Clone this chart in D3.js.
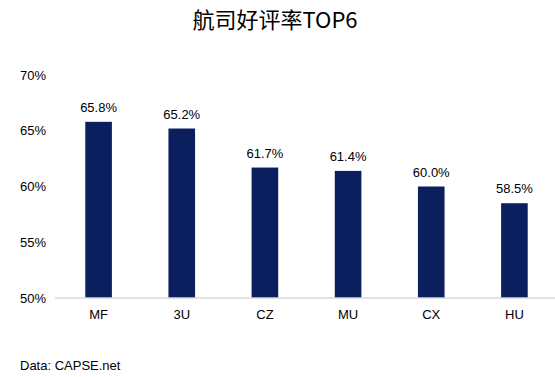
<!DOCTYPE html>
<html lang="zh">
<head>
    <meta charset="UTF-8">
    <title>航司好评率TOP6</title>
    <script src="https://d3js.org/d3.v7.min.js"></script>
    <style>
        body { margin: 0; background: #fff; }
        svg { font-family: "Liberation Sans", Arial, sans-serif; }
        .axis-x path { stroke: #d9d9d9; stroke-width: 1.5; }
        .axis-x line { display: none; }
        .axis-x text, .axis-y text { font-size: 13px; fill: #000; }
        .axis-y path, .axis-y line { display: none; }
    </style>
</head>
<body>
    <svg width="555" height="377"></svg>

    <script>
        // Data
        const airlines = ["MF", "3U", "CZ", "MU", "CX", "HU"];
        const ratings = [65.8, 65.2, 61.7, 61.4, 60.0, 58.5];
        const yTicks = [50, 55, 60, 65, 70];

        const svg = d3.select("svg");

        // Scales
        const x = d3.scaleBand()
            .domain(airlines)
            .range([57, 556])
            .paddingInner(0.68)
            .paddingOuter(0.34);
        const y = d3.scaleLinear().domain([50, 70]).range([298, 75]);

        // Title
        svg.append("text")
            .attr("x", 275)
            .attr("y", 28)
            .attr("text-anchor", "middle")
            .style("font-family", "'Noto Sans CJK SC', 'Liberation Sans', sans-serif")
            .style("font-size", "22px")
            .text("航司好评率TOP6");

        // Bars
        svg.selectAll(".bar")
            .data(ratings)
            .enter().append("rect")
            .attr("class", "bar")
            .attr("x", (d, i) => x(airlines[i]))
            .attr("width", x.bandwidth())
            .attr("y", d => y(d))
            .attr("height", d => y(50) - y(d))
            .attr("fill", "#0b1f5e");

        // Value labels
        svg.selectAll(".label")
            .data(ratings)
            .enter().append("text")
            .attr("class", "label")
            .attr("x", (d, i) => x(airlines[i]) + x.bandwidth() / 2)
            .attr("y", d => y(d) - 10)
            .attr("text-anchor", "middle")
            .style("font-size", "13px")
            .text(d => d.toFixed(1) + "%");

        // X axis
        svg.append("g")
            .attr("class", "axis-x")
            .attr("transform", `translate(0,${y(50)})`)
            .call(d3.axisBottom(x).tickSize(0).tickPadding(12).tickSizeOuter(0))
            .select(".domain").attr("d", "M55,0H556");

        // Y axis
        svg.append("g")
            .attr("class", "axis-y")
            .attr("transform", "translate(46,0)")
            .call(d3.axisLeft(y).tickValues(yTicks).tickSize(0).tickPadding(0)
                .tickFormat(d => d + "%"));

        // Footer
        svg.append("text")
            .attr("x", 20)
            .attr("y", 370)
            .style("font-size", "13px")
            .text("Data: CAPSE.net");
    </script>
</body>
</html>
